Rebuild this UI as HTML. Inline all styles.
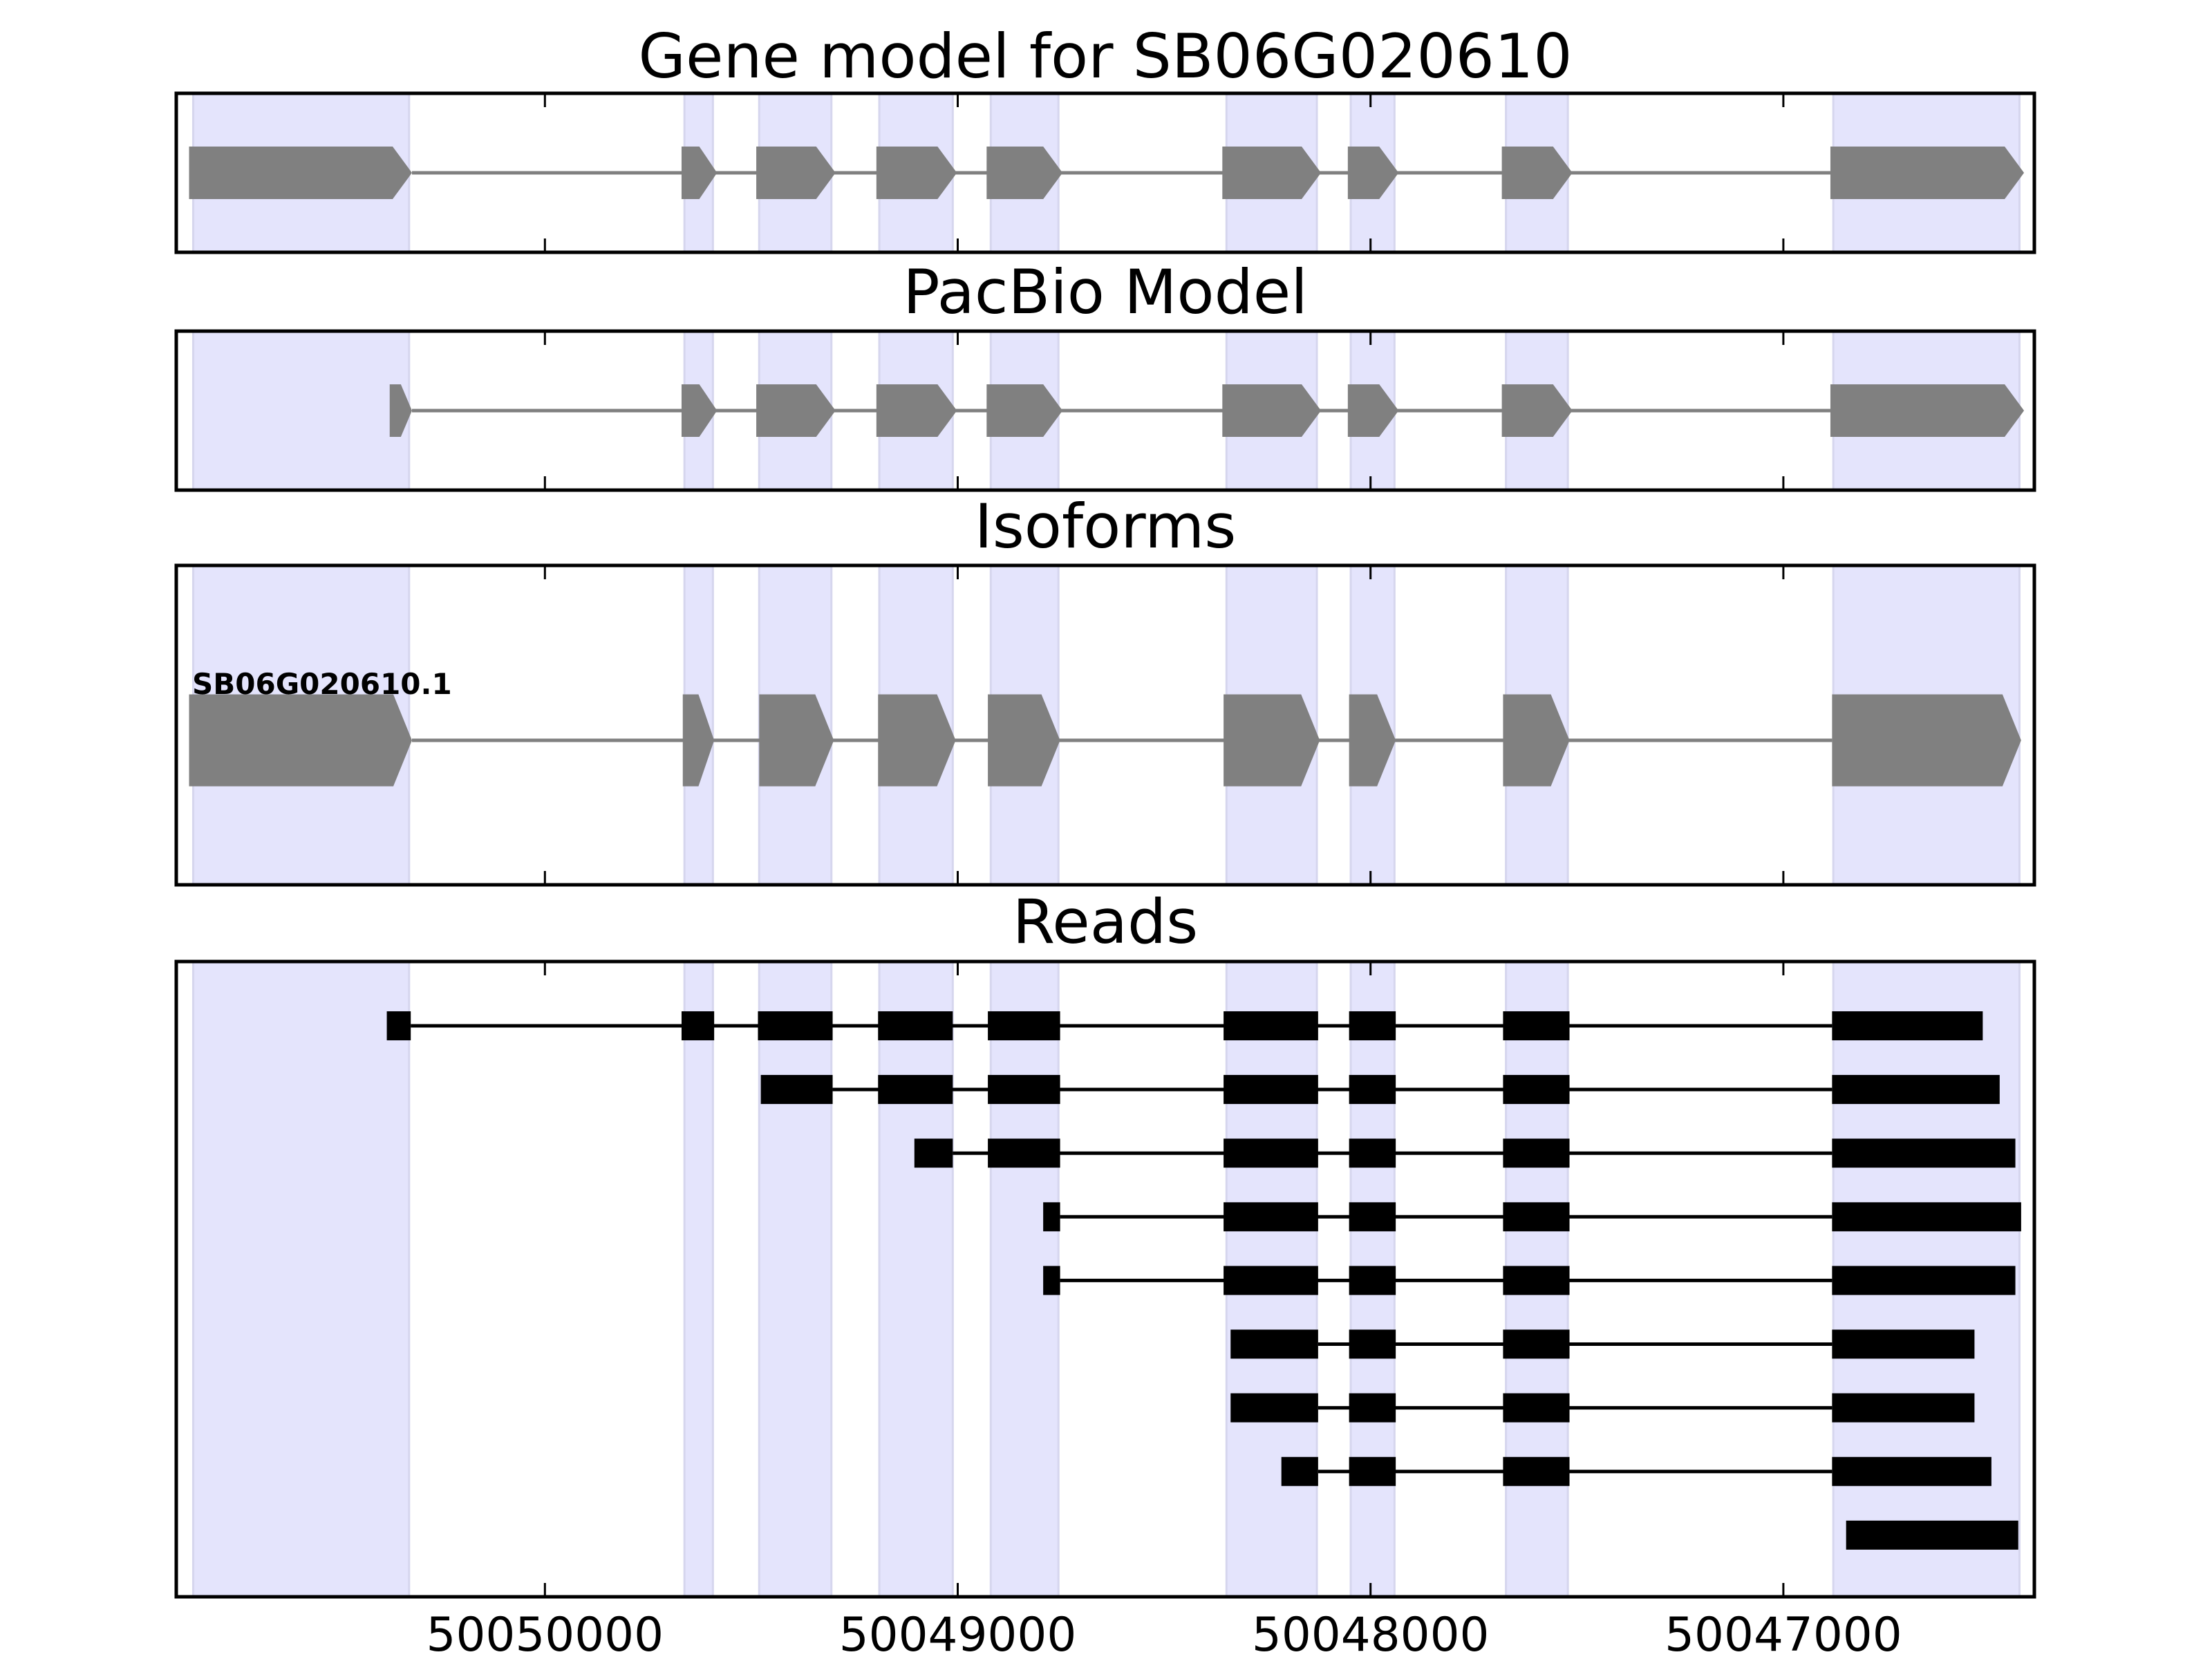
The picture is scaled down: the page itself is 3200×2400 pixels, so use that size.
<!DOCTYPE html>
<html><head><meta charset="utf-8"><style>
html,body{margin:0;padding:0;background:#fff;}
svg{display:block;}
text{font-family:"DejaVu Sans","Liberation Sans",sans-serif;}
</style></head><body>
<svg id="chart" width="3200" height="2400" viewBox="0 0 3200 2400" xmlns="http://www.w3.org/2000/svg"></svg>
<script>
// ---- data (genomic coordinates) ----
const xTicks = [50050000, 50049000, 50048000, 50047000];
const xTickLabels = ["50050000", "50049000", "50048000", "50047000"];
const shadedRegions = [[50050852,50050329],[50049662,50049593],[50049481,50049306],[50049190,50049012],[50048920,50048756],[50048349,50048130],[50048048,50047942],[50047672,50047522],[50046879,50046428]];
const geneExons = [[50050862,50050322],[50049669,50049583],[50049488,50049296],[50049197,50049002],[50048930,50048746],[50048359,50048120],[50048055,50047932],[50047682,50047511],[50046886,50046417]];
const pacbioExons = [[50050376,50050322],[50049669,50049583],[50049488,50049296],[50049197,50049002],[50048930,50048746],[50048359,50048120],[50048055,50047932],[50047682,50047511],[50046886,50046417]];
const isoformExons = [[50050862,50050322],[50049666,50049590],[50049481,50049300],[50049193,50049005],[50048927,50048752],[50048356,50048123],[50048052,50047939],[50047679,50047518],[50046882,50046424]];
const isoformName = "SB06G020610.1";
const reads = [
 [[50050383,50050325],[50049669,50049590],[50049484,50049303],[50049193,50049012],[50048927,50048752],[50048356,50048127],[50048052,50047939],[50047679,50047518],[50046882,50046517]],
 [[50049477,50049303],[50049193,50049012],[50048927,50048752],[50048356,50048127],[50048052,50047939],[50047679,50047518],[50046882,50046476]],
 [[50049105,50049012],[50048927,50048752],[50048356,50048127],[50048052,50047939],[50047679,50047518],[50046882,50046438]],
 [[50048793,50048752],[50048356,50048127],[50048052,50047939],[50047679,50047518],[50046882,50046424]],
 [[50048793,50048752],[50048356,50048127],[50048052,50047939],[50047679,50047518],[50046882,50046438]],
 [[50048339,50048127],[50048052,50047939],[50047679,50047518],[50046882,50046537]],
 [[50048339,50048127],[50048052,50047939],[50047679,50047518],[50046882,50046537]],
 [[50048216,50048127],[50048052,50047939],[50047679,50047518],[50046882,50046496]],
 [[50046848,50046431]]
];
const titles = ["Gene model for SB06G020610", "PacBio Model", "Isoforms", "Reads"];

// ---- layout ----
const svg = document.getElementById('chart');
const NS = 'http://www.w3.org/2000/svg';
const L = 255, R = 2943;
const x0 = 50050893, x1 = 50046392;
function X(g){ return L + (x0 - g) / (x0 - x1) * (R - L); }
function mk(tag, attrs, parent){
  const e = document.createElementNS(NS, tag);
  for (const k in attrs) e.setAttribute(k, attrs[k]);
  (parent || svg).appendChild(e);
  return e;
}
const panels = [
  {top:135, bot:365, titleY:112, cy:250, name:'gene-model-panel'},
  {top:479, bot:709, titleY:453, cy:594, name:'pacbio-model-panel'},
  {top:818, bot:1280, titleY:792, cy:1071, name:'isoforms-panel'},
  {top:1391, bot:2310, titleY:1364, cy:0, name:'reads-panel'}
];

function drawPanelBase(p, i){
  const g = mk('g', {});
  
  
  shadedRegions.forEach((r) => {
    const a = X(r[0]), b = X(r[1]);
    const s = mk('rect', {x:a, y:p.top, width:b-a, height:p.bot-p.top, fill:'#e4e4fc', stroke:'#d6d6ee', 'stroke-width':3}, g);
    
    
  });
  const t = mk('text', {x:(L+R)/2, y:p.titleY, 'text-anchor':'middle', 'font-size':88.5, fill:'#000'}, svg);
  t.textContent = titles[i];
  
  
  return g;
}
function drawFrame(p){
  const f = mk('g', {});
  
  
  xTicks.forEach((v) => {
    const x = X(v);
    const t1 = mk('line', {x1:x, x2:x, y1:p.top, y2:p.top+20, stroke:'#000', 'stroke-width':3}, f);
    
    
    const t2 = mk('line', {x1:x, x2:x, y1:p.bot, y2:p.bot-20, stroke:'#000', 'stroke-width':3}, f);
    
    
  });
  mk('rect', {x:L, y:p.top, width:R-L, height:p.bot-p.top, fill:'none', stroke:'#000', 'stroke-width':5}, f);
}
function drawModel(p, exons, h, tipMax, name){
  const cy = p.cy;
  const g = mk('g', {});
  
  
  const ln = mk('line', {x1:X(exons[0][1]), x2:X(exons[exons.length-1][0]), y1:cy, y2:cy, stroke:'#808080', 'stroke-width':5}, g);
  
  
  exons.forEach((e) => {
    const a = X(e[0]), b = X(e[1]);
    const tip = Math.min(tipMax, (b - a) * 0.5);
    const pts = [[a,cy-h/2],[b-tip,cy-h/2],[b,cy],[b-tip,cy+h/2],[a,cy+h/2]].map(q=>q.join(',')).join(' ');
    const poly = mk('polygon', {points:pts, fill:'#808080'}, g);
    
    
  });
}

panels.forEach((p, i) => drawPanelBase(p, i));

drawModel(panels[0], geneExons, 76, 28, 'gene-model-track');
drawModel(panels[1], pacbioExons, 76, 28, 'pacbio-model-track');
drawModel(panels[2], isoformExons, 133, 27, 'isoform-track');
const lab = mk('text', {x:278, y:1004, 'font-size':42, 'font-weight':'bold', fill:'#000'});
lab.textContent = isoformName;



// reads
const rowTop = 1484, rowStep = 92.1;
reads.forEach((rd, i) => {
  const cy = rowTop + i * rowStep;
  const g = mk('g', {});
  
  
  if (rd.length > 1) {
    const ln = mk('line', {x1:X(rd[0][1]), x2:X(rd[rd.length-1][0]), y1:cy, y2:cy, stroke:'#000', 'stroke-width':5}, g);
    
    
  }
  rd.forEach((b) => {
    const a = X(b[0]), c = X(b[1]);
    const r = mk('rect', {x:a, y:cy-21, width:c-a, height:42, fill:'#000'}, g);
    
    
  });
});

panels.forEach((p) => drawFrame(p));

xTicks.forEach((v, i) => {
  const t = mk('text', {x:X(v), y:2388, 'text-anchor':'middle', 'font-size':67.5, fill:'#000'});
  t.textContent = xTickLabels[i];
  
  
});
</script>
</body></html>
